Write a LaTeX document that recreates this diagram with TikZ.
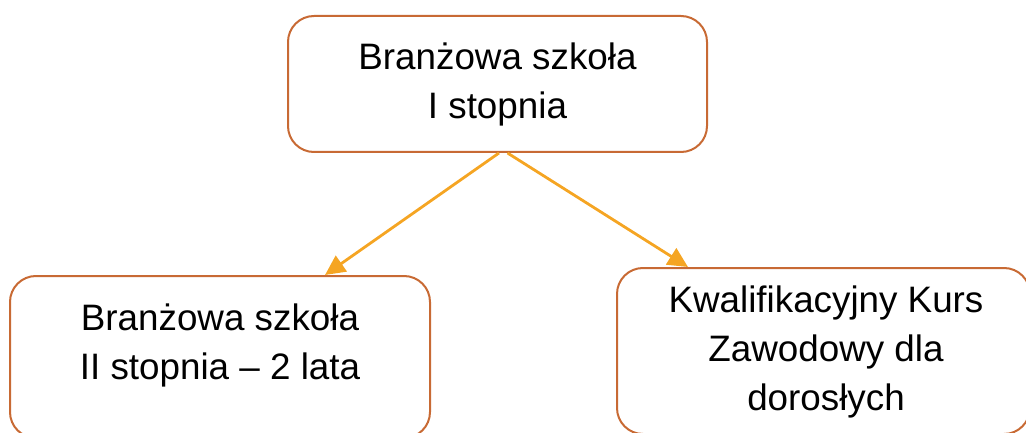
\documentclass[tikz,border=0pt]{standalone}
\usepackage{fontspec}
\setmainfont{Liberation Sans}
\usepackage{tikz}
\usetikzlibrary{arrows.meta}
\definecolor{boxorange}{RGB}{200,106,52}
\definecolor{arroworange}{RGB}{245,165,35}

\begin{document}
\begin{tikzpicture}[x=1pt,y=-1pt,
      school node/.style={rectangle,draw=boxorange,line width=2pt,rounded corners=26pt},
      text node/.style={align=center,font=\fontsize{36.8}{49}\selectfont},
      flow/.style={-{Triangle[length=20pt,width=19pt]},draw=arroworange,fill=arroworange,line width=2.8pt}]

      \useasboundingbox (0,0) rectangle (1026,433);
      \clip (0,0) rectangle (1026,433);

      \node[school node,text node,minimum width=419pt,minimum height=136pt] (top) at (497.5,84) {Branżowa szkoła\\I stopnia};
      \node[school node,minimum width=420pt,minimum height=162pt] (left) at (220,357) {};
      \node[school node,minimum width=413pt,minimum height=166pt] (right) at (823.5,351) {};
      \node[text node] (lefttext) at (220,345) {Branżowa szkoła\\II stopnia – 2 lata};
      \node[text node] (righttext) at (826,352) {Kwalifikacyjny Kurs\\Zawodowy dla\\dorosłych};

      \draw[flow] ([xshift=1.5pt]top.south) -- ([xshift=105pt]left.north);
      \draw[flow] ([xshift=10pt]top.south) -- ([xshift=-135.5pt]right.north);
    \end{tikzpicture}
\end{document}
